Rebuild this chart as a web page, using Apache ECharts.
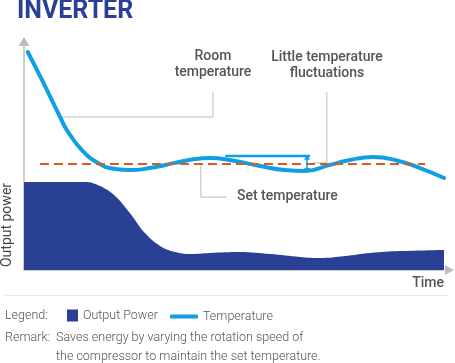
<!DOCTYPE html>
<html>
<head>
<meta charset="utf-8">
<script src="https://cdn.jsdelivr.net/npm/echarts@6/dist/echarts.min.js"></script>
<style>html,body{margin:0;padding:0;background:#fff}#c{width:455px;height:363px}</style>
</head>
<body>
<div id="c"></div>
<script>
// Temperature curve (time 0..100, level 0..100)
const tempTime  = [0.9, 4.3, 8.6, 10.2, 13.8, 17.6, 21.7, 25.2, 30.0, 36.0, 40.7, 44.3, 49.0, 56.2, 62.1, 66.9, 72.9, 77.6, 83.1, 88.3, 94.3, 100];
const tempValue = [96.9, 84.4, 68.0, 62.2, 53.3, 47.6, 44.9, 44.4, 45.3, 47.6, 49.3, 49.8, 48.9, 46.2, 44.4, 44.0, 46.7, 48.9, 50.2, 48.9, 45.3, 40.9];
// Output power area
const powerTime  = [0, 14.5, 18.1, 21.7, 25.2, 28.8, 32.4, 36.0, 39.5, 44.3, 51.4, 58.6, 65.7, 70.5, 76.4, 82.4, 89.5, 100];
const powerValue = [39.1, 39.1, 37.3, 32.9, 25.3, 16.4, 10.7, 8.0, 7.1, 7.6, 8.0, 7.1, 5.8, 5.3, 6.2, 7.6, 8.4, 8.9];
// Set temperature
const setTemp = 47.1;
const setTempRange = [3.8, 95.5];
// Room-temperature band
const roomRef = 50.7;
const roomRefRange = [47.9, 68.1];
const fluctArrowAt = 67.4;
const fluctLow = 44.2;
// Leader lines
const leaderRoom  = [[45.0, 79.1], [45.0, 68.0], [8.6, 68.0]];
const leaderFluct = [[72.1, 79.1], [72.1, 47.6], [68.8, 47.6]];
const leaderSet   = [[42.1, 47.1], [42.1, 32.4], [48.3, 32.4]];

const zip = (a, b) => a.map((v, i) => [v, b[i]]);
const BLUE = '#0fa0e3', NAVY = '#2a4094', ORANGE = '#e0581e', GREY = '#555';
const leaderStyle = {type: 'line', symbol: 'none', silent: true, lineStyle: {color: '#bdbdbd', width: 1}, z: 1};
const legendText = {color: GREY, fontSize: 12.5, fontFamily: 'Roboto', fontWeight: 300};

const chart = echarts.init(document.getElementById('c'));
chart.setOption({
  animation: false,
  grid: {left: 24, right: 11, top: 45, bottom: 93},
  xAxis: {type: 'value', min: 0, max: 100,
    axisLine: {lineStyle: {color: '#bdbdbd', width: 1.5}, symbol: ['none', 'triangle'], symbolSize: [10, 9], symbolOffset: [0, 5.5]},
    axisTick: {show: false}, axisLabel: {show: false}, splitLine: {show: false}},
  yAxis: {type: 'value', min: 0, max: 100,
    axisLine: {show: true, lineStyle: {color: '#bdbdbd', width: 1.5}, symbol: ['none', 'triangle'], symbolSize: [11, 9], symbolOffset: [0, 3.5]},
    axisTick: {show: false}, axisLabel: {show: false}, splitLine: {show: false}},
  legend: [
    {data: [{name: 'Output Power', icon: 'rect'}], left: 67, top: 309, itemWidth: 11, itemHeight: 12, padding: 0,
     textStyle: legendText, selectedMode: false},
    {data: [{name: 'Temperature', icon: 'roundRect'}], left: 170, top: 310, itemWidth: 28, itemHeight: 4, padding: 0,
     textStyle: legendText, selectedMode: false}
  ],
  series: [
    {name: 'Output Power', type: 'line', data: zip(powerTime, powerValue), smooth: 0.4, symbol: 'none',
     lineStyle: {width: 0, color: NAVY}, itemStyle: {color: NAVY}, areaStyle: {color: NAVY, opacity: 1}, z: 2},
    Object.assign({}, leaderStyle, {data: leaderRoom}),
    Object.assign({}, leaderStyle, {data: leaderFluct}),
    Object.assign({}, leaderStyle, {data: leaderSet}),
    {name: 'Temperature', type: 'line', data: zip(tempTime, tempValue), smooth: 0.5, symbol: 'none',
     lineStyle: {width: 4, color: BLUE, cap: 'round'}, itemStyle: {color: BLUE}, z: 3},
    {type: 'line', data: [[roomRefRange[0], roomRef], [roomRefRange[1], roomRef]], symbol: 'none', silent: true,
     lineStyle: {width: 2.5, color: BLUE}, z: 3,
     markLine: {silent: true, symbol: ['triangle', 'triangle'], symbolSize: [6, 5], label: {show: false},
       lineStyle: {color: BLUE, width: 1.5, type: 'solid'},
       data: [[{coord: [fluctArrowAt, roomRef - 0.6]}, {coord: [fluctArrowAt, fluctLow]}]]}},
    {type: 'line', data: [[setTempRange[0], setTemp], [setTempRange[1], setTemp]], symbol: 'none', silent: true,
     lineStyle: {width: 2, color: ORANGE, type: [9, 5]}, z: 4}
  ],
  graphic: [
    {type: 'text', left: 17, top: -1, style: {text: 'INVERTER', fill: '#2b3f96', font: 'bold 25px Roboto'}},
    {type: 'text', x: 213, y: 64, style: {text: 'Room\ntemperature', fill: GREY, font: '500 14px Roboto', align: 'center', verticalAlign: 'middle', lineHeight: 16}},
    {type: 'text', x: 327, y: 65, style: {text: 'Little temperature\nfluctuations', fill: GREY, font: '500 14px Roboto', align: 'center', verticalAlign: 'middle', lineHeight: 16}},
    {type: 'text', x: 237, y: 196, style: {text: 'Set temperature', fill: GREY, font: '500 14px Roboto', align: 'left', verticalAlign: 'middle'}},
    {type: 'text', x: 55, y: 243, style: {text: 'ON', fill: '#fff', font: '500 16px Roboto', align: 'left', verticalAlign: 'middle'}},
    {type: 'text', x: 7, y: 225, rotation: Math.PI / 2, style: {text: 'Output power', fill: '#444', font: '14px Roboto', align: 'center', verticalAlign: 'middle'}},
    {type: 'text', x: 444, y: 283, style: {text: 'Time', fill: GREY, font: '500 14px Roboto', align: 'right', verticalAlign: 'middle'}},
    {type: 'line', shape: {x1: 5, y1: 295.5, x2: 448, y2: 295.5}, style: {stroke: '#e6e6e6', lineWidth: 1}},
    {type: 'text', x: 5, y: 316, style: {text: 'Legend:', fill: GREY, font: '300 12.5px Roboto', verticalAlign: 'middle'}},
    {type: 'text', x: 5, y: 338, style: {text: 'Remark:', fill: GREY, font: '300 12.5px Roboto', verticalAlign: 'middle'}},
    {type: 'text', x: 56, y: 338, style: {text: 'Saves energy by varying the rotation speed of', fill: GREY, font: '300 12.5px Roboto', verticalAlign: 'middle'}},
    {type: 'text', x: 56, y: 357, style: {text: 'the compressor to maintain the set temperature.', fill: GREY, font: '300 12.5px Roboto', verticalAlign: 'middle'}}
  ]
});
</script>
</body>
</html>
